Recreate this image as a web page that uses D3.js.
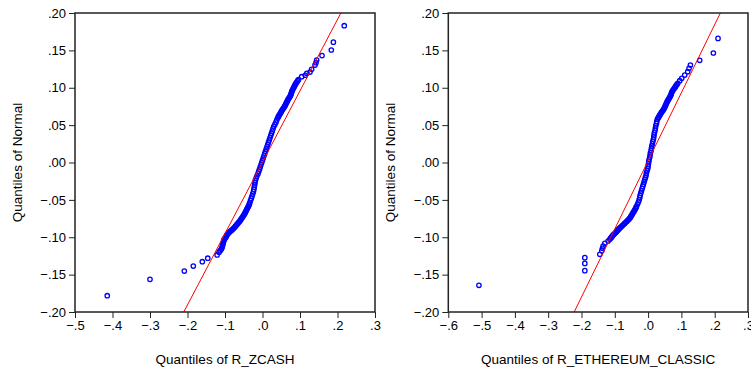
<!DOCTYPE html>
<html>
<head>
<meta charset="utf-8">
<script src="https://cdn.jsdelivr.net/npm/d3@7"></script>
<style>
  body { margin: 0; background: #fff; }
  text { font-family: "Liberation Sans", Arial, sans-serif; fill: #000; }
</style>
</head>
<body>
<div class="center"></div>
<script>
// tick values shared by both panels
var yTicks = [-0.20, -0.15, -0.10, -0.05, 0.00, 0.05, 0.10, 0.15, 0.20];
var zcashXTicks = [-0.5, -0.4, -0.3, -0.2, -0.1, 0.0, 0.1, 0.2, 0.3];
var etcXTicks = [-0.6, -0.5, -0.4, -0.3, -0.2, -0.1, 0.0, 0.1, 0.2, 0.3];

// [quantile of series, quantile of normal]
var zcashQQ = [
  [0.218, 0.183], [0.189, 0.161], [0.1835, 0.1505], [0.1587, 0.143], [0.1445, 0.137],
  [0.1427, 0.1335], [0.140, 0.1304], [0.131, 0.1247], [0.1267, 0.121], [0.118, 0.1193],
  [0.114, 0.1167], [0.1045, 0.1148],
  [0.096, 0.111], [0.092, 0.108], [0.088, 0.105], [0.085, 0.102], [0.082, 0.099],
  [0.079, 0.096], [0.077, 0.093], [0.075, 0.090], [0.072, 0.087], [0.068, 0.084],
  [0.065, 0.081], [0.062, 0.078], [0.059, 0.075], [0.055, 0.072], [0.051, 0.069],
  [0.048, 0.066], [0.044, 0.063], [0.041, 0.060], [0.038, 0.057], [0.036, 0.054],
  [0.033, 0.051], [0.030, 0.048], [0.028, 0.045], [0.026, 0.042], [0.024, 0.039],
  [0.022, 0.036], [0.020, 0.033], [0.018, 0.030], [0.016, 0.027], [0.014, 0.024],
  [0.012, 0.021], [0.010, 0.018], [0.008, 0.015], [0.006, 0.012], [0.004, 0.009],
  [0.002, 0.006], [0.000, 0.003], [-0.002, 0.000], [-0.004, -0.003], [-0.006, -0.006],
  [-0.008, -0.009], [-0.010, -0.012], [-0.012, -0.015], [-0.015, -0.018], [-0.017, -0.021],
  [-0.019, -0.024], [-0.020, -0.027], [-0.021, -0.030], [-0.022, -0.033], [-0.023, -0.036],
  [-0.024, -0.039], [-0.026, -0.042], [-0.028, -0.045], [-0.030, -0.048], [-0.032, -0.051],
  [-0.034, -0.054], [-0.036, -0.057], [-0.039, -0.060], [-0.042, -0.063], [-0.045, -0.066],
  [-0.048, -0.069], [-0.052, -0.072], [-0.056, -0.075], [-0.060, -0.078], [-0.065, -0.081],
  [-0.070, -0.084], [-0.075, -0.087], [-0.081, -0.090], [-0.086, -0.092], [-0.090, -0.094],
  [-0.094, -0.096], [-0.096, -0.098], [-0.098, -0.100], [-0.101, -0.102], [-0.103, -0.104],
  [-0.104, -0.106], [-0.105, -0.108], [-0.106, -0.110], [-0.107, -0.112], [-0.108, -0.114],
  [-0.110, -0.116], [-0.113, -0.118], [-0.116, -0.120], [-0.121, -0.1237],
  [-0.146, -0.128], [-0.1605, -0.1327], [-0.1845, -0.1385], [-0.2085, -0.1452],
  [-0.300, -0.1563], [-0.414, -0.1782],
  [-0.050, -0.0705], [-0.054, -0.0735], [-0.058, -0.0765], [-0.0625, -0.0795], [-0.0675, -0.0825],
  [-0.0725, -0.0855], [-0.078, -0.0885], [-0.0835, -0.091], [-0.088, -0.093], [-0.092, -0.095],
  [-0.095, -0.097], [-0.097, -0.099], [-0.0995, -0.101], [-0.102, -0.103],
  [-0.035, -0.0555], [-0.0375, -0.0585], [-0.0405, -0.0615], [-0.0435, -0.0645], [-0.0465, -0.0675],
  [0.0695, 0.0855], [0.0665, 0.0825], [0.0635, 0.0795], [0.0605, 0.0765], [0.057, 0.0735],
  [0.053, 0.0705], [0.0495, 0.0675], [0.046, 0.0645], [0.0425, 0.0615], [0.0735, 0.0885],
  [0.076, 0.0915], [0.078, 0.0945], [0.0805, 0.0975], [0.0835, 0.1005], [0.0865, 0.1035],
  [0.090, 0.1065], [0.094, 0.1095]
];
var zcashLine = [[-0.21, -0.20], [0.209, 0.20]];

var etcQQ = [
  [0.210, 0.166], [0.196, 0.1465], [0.155, 0.1367], [0.127, 0.1304], [0.123, 0.126],
  [0.119, 0.1215], [0.110, 0.117], [0.101, 0.1126], [0.095, 0.1094],
  [0.089, 0.106], [0.084, 0.103], [0.080, 0.100], [0.075, 0.097], [0.071, 0.094],
  [0.069, 0.091], [0.066, 0.088], [0.062, 0.085], [0.058, 0.082], [0.055, 0.079],
  [0.052, 0.076], [0.049, 0.073], [0.045, 0.070], [0.040, 0.067], [0.036, 0.064],
  [0.032, 0.061], [0.028, 0.058], [0.026, 0.055], [0.025, 0.052], [0.023, 0.049],
  [0.022, 0.046], [0.021, 0.043], [0.019, 0.040], [0.018, 0.037], [0.017, 0.034],
  [0.016, 0.031], [0.014, 0.028], [0.013, 0.025], [0.011, 0.022], [0.010, 0.019],
  [0.009, 0.016], [0.007, 0.013], [0.006, 0.010], [0.005, 0.007], [0.003, 0.004],
  [0.002, 0.001], [0.001, -0.002], [0.000, -0.005], [-0.001, -0.008], [-0.003, -0.011],
  [-0.005, -0.014], [-0.006, -0.017], [-0.008, -0.020], [-0.010, -0.023], [-0.012, -0.026],
  [-0.014, -0.029], [-0.016, -0.032], [-0.018, -0.035], [-0.020, -0.038], [-0.022, -0.041],
  [-0.024, -0.044], [-0.025, -0.047], [-0.027, -0.050], [-0.029, -0.053], [-0.032, -0.056],
  [-0.035, -0.059], [-0.038, -0.062], [-0.042, -0.065], [-0.046, -0.068], [-0.050, -0.071],
  [-0.054, -0.074], [-0.060, -0.077], [-0.067, -0.080], [-0.074, -0.083], [-0.081, -0.086],
  [-0.086, -0.088], [-0.090, -0.090], [-0.094, -0.092], [-0.098, -0.094], [-0.103, -0.096],
  [-0.107, -0.098], [-0.110, -0.100], [-0.115, -0.1027], [-0.120, -0.105], [-0.130, -0.108],
  [-0.135, -0.1117], [-0.137, -0.1148], [-0.139, -0.118], [-0.145, -0.1228],
  [-0.190, -0.1273], [-0.190, -0.135], [-0.190, -0.1447], [-0.508, -0.1643],
  [-0.0635, -0.0785], [-0.0705, -0.0815], [-0.0775, -0.0845], [-0.0835, -0.087], [-0.088, -0.089],
  [-0.092, -0.091], [-0.096, -0.093], [-0.1005, -0.095], [-0.105, -0.097], [-0.1085, -0.099],
  [-0.1125, -0.1013], [-0.057, -0.0755], [-0.052, -0.0725], [-0.048, -0.0695], [-0.044, -0.0665],
  [-0.040, -0.0635], [-0.0365, -0.0605],
  [0.0425, 0.0685], [0.047, 0.0715], [0.0505, 0.0745], [0.0535, 0.0775], [0.0565, 0.0805],
  [0.060, 0.0835], [0.064, 0.0865], [0.0675, 0.0895], [0.070, 0.0925], [0.073, 0.0955],
  [0.0775, 0.0985], [0.082, 0.1015], [0.0865, 0.1045], [0.038, 0.0655], [0.034, 0.0625],
  [0.030, 0.0595]
];
var etcLine = [[-0.222, -0.20], [0.217, 0.20]];

var svg = d3.select(".center").append("svg")
    .attr("width", 751)
    .attr("height", 377);

var fmt = function(p) {
  var f = d3.format(p);
  return function(d) { return f(d).replace("0.", "."); };
};

function drawPanel(left, right, xTicks, qq, line, title, id) {
  var top = 13, bottom = 312;
  var x = d3.scaleLinear().domain([xTicks[0], xTicks[xTicks.length - 1]]).range([left, right]);
  var y = d3.scaleLinear().domain([-0.2, 0.2]).range([bottom, top]);

  svg.append("clipPath").attr("id", id)
    .append("rect")
      .attr("x", left).attr("y", top)
      .attr("width", right - left).attr("height", bottom - top);

  // points
  svg.append("g")
    .attr("clip-path", "url(#" + id + ")")
    .selectAll("circle")
    .data(qq)
    .enter().append("circle")
      .attr("cx", function(d) { return x(d[0]); })
      .attr("cy", function(d) { return y(d[1]); })
      .attr("r", 2.2)
      .style("fill", "none")
      .style("stroke", "#0000ff")
      .style("stroke-width", 1.3);

  // reference line
  svg.append("path")
    .datum(line)
    .attr("clip-path", "url(#" + id + ")")
    .attr("d", d3.line().x(function(d) { return x(d[0]); }).y(function(d) { return y(d[1]); }))
    .style("fill", "none")
    .style("stroke", "#ff0000")
    .style("stroke-width", 1);

  // frame
  svg.append("rect")
    .attr("x", left).attr("y", top)
    .attr("width", right - left).attr("height", bottom - top)
    .style("fill", "none")
    .style("stroke", "#222")
    .style("stroke-width", 1.5);

  // axes
  var xAxis = svg.append("g")
    .attr("transform", "translate(0," + bottom + ")")
    .call(d3.axisBottom(x).tickValues(xTicks).tickFormat(fmt(".1f")).tickSize(6).tickPadding(3));
  var yAxis = svg.append("g")
    .attr("transform", "translate(" + left + ",0)")
    .call(d3.axisLeft(y).tickValues(yTicks).tickFormat(fmt(".2f")).tickSize(6).tickPadding(3));

  [xAxis, yAxis].forEach(function(a) {
    a.select(".domain").remove();
    a.selectAll("line").style("stroke", "#222");
    a.selectAll("text")
      .style("font-size", "13px")
      .style("font-family", "'Liberation Sans', Arial, sans-serif")
      .style("fill", "#000");
  });

  svg.append("text")
    .attr("x", (left + right) / 2)
    .attr("y", 364)
    .style("text-anchor", "middle")
    .style("font-size", "13.5px")
    .text(title);

  svg.append("text")
    .attr("transform", "rotate(-90)")
    .attr("x", -(top + bottom) / 2)
    .attr("y", left - 53)
    .style("text-anchor", "middle")
    .style("font-size", "13.5px")
    .text("Quantiles of Normal");
}

drawPanel(75, 375, zcashXTicks, zcashQQ, zcashLine, "Quantiles of R_ZCASH", "clipA");
drawPanel(448.3, 748, etcXTicks, etcQQ, etcLine, "Quantiles of R_ETHEREUM_CLASSIC", "clipB");
</script>
</body>
</html>
